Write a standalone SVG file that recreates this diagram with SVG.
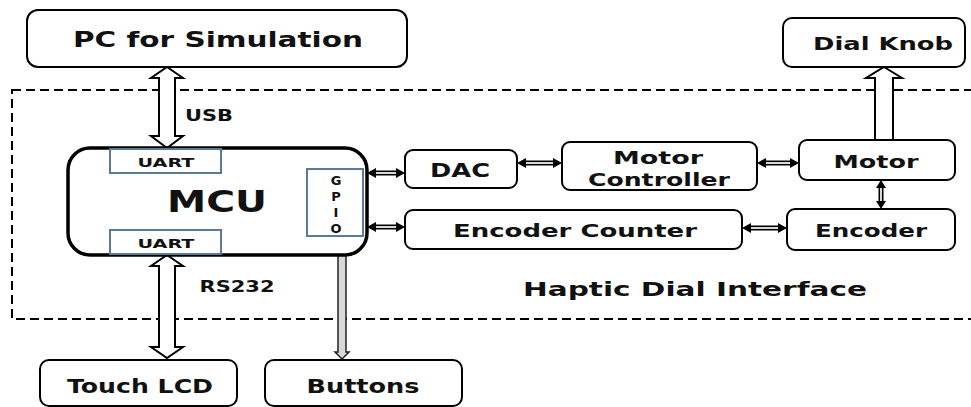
<svg xmlns="http://www.w3.org/2000/svg" width="971" height="407" viewBox="0 0 971 407">
<style>
.box{fill:#fff;stroke:#000;stroke-width:2}
.t{font-family:"DejaVu Sans",Verdana,sans-serif;font-weight:bold;fill:#111;text-anchor:middle}
.sub{fill:#fff;stroke:#5b7a99;stroke-width:2}
.big{fill:#fff;stroke:#000;stroke-width:2;stroke-linejoin:miter}
.dbl{stroke:#000;stroke-width:5;fill:none}
.dbli{stroke:#d8d8d8;stroke-width:2;fill:none}
.head{fill:#000}
</style>
<rect x="12" y="90" width="970" height="229" fill="none" stroke="#000" stroke-width="2" stroke-dasharray="9,5"/>
<g id="connectors">
  <path class="big" d="M167,67 L183,78 L175,78 L175,136 L183,136 L167,148 L151,136 L159,136 L159,78 L151,78 Z"/>
  <path class="big" d="M167,255 L183,266 L175,266 L175,347 L183,347 L167,358 L151,347 L159,347 L159,266 L151,266 Z"/>
  <path class="big" d="M884,67 L902,78 L893,78 L893,140 L875,140 L875,78 L866,78 Z"/>
  <path d="M342,237 L349,244 L346,244 L346,352 L349,352 L342,359 L335,352 L338,352 L338,244 L335,244 Z" fill="#d8d8d8" stroke="#222" stroke-width="1.5"/>
  <g>
    <line class="dbl" x1="374" y1="173" x2="398" y2="173"/><line class="dbli" x1="374" y1="173" x2="398" y2="173"/>
    <path class="head" d="M367,173 L376,168 L376,178 Z M405,173 L396,168 L396,178 Z"/>
    <line class="dbl" x1="374" y1="227" x2="398" y2="227"/><line class="dbli" x1="374" y1="227" x2="398" y2="227"/>
    <path class="head" d="M367,227 L376,222 L376,232 Z M405,227 L396,222 L396,232 Z"/>
    <line class="dbl" x1="524" y1="163" x2="555" y2="163"/><line class="dbli" x1="524" y1="163" x2="555" y2="163"/>
    <path class="head" d="M517,163 L526,158 L526,168 Z M562,163 L553,158 L553,168 Z"/>
    <line class="dbl" x1="764" y1="163" x2="792" y2="163"/><line class="dbli" x1="764" y1="163" x2="792" y2="163"/>
    <path class="head" d="M757,163 L766,158 L766,168 Z M799,163 L790,158 L790,168 Z"/>
    <line class="dbl" x1="749" y1="228" x2="780" y2="228"/><line class="dbli" x1="749" y1="228" x2="780" y2="228"/>
    <path class="head" d="M742,228 L751,223 L751,233 Z M787,228 L778,223 L778,233 Z"/>
    <line class="dbl" x1="881" y1="186" x2="881" y2="203"/><line class="dbli" x1="881" y1="186" x2="881" y2="203"/>
    <path class="head" d="M881,180 L876,188 L886,188 Z M881,209 L876,201 L886,201 Z"/>
  </g>
</g>
<g id="pc"><rect class="box" x="27" y="10" width="380" height="57" rx="11"/><text class="t" x="218" y="47" font-size="22" textLength="290" lengthAdjust="spacingAndGlyphs">PC for Simulation</text></g>
<g id="mcu">
  <rect x="68" y="148" width="299" height="107" rx="22" fill="#fff" stroke="#000" stroke-width="3.5"/>
  <text class="t" x="217" y="212" font-size="30" textLength="100" lengthAdjust="spacingAndGlyphs">MCU</text>
</g>
<g id="uart-top"><rect class="sub" x="110" y="149" width="111" height="24"/><text class="t" x="166" y="167" font-size="13" textLength="57" lengthAdjust="spacingAndGlyphs">UART</text></g>
<g id="uart-bottom"><rect class="sub" x="110" y="230" width="111" height="24"/><text class="t" x="166" y="248" font-size="13" textLength="57" lengthAdjust="spacingAndGlyphs">UART</text></g>
<g id="gpio"><rect class="sub" x="307" y="169" width="56" height="67"/>
  <text class="t" font-size="13" x="336" y="185">G</text><text class="t" font-size="13" x="336" y="201">P</text><text class="t" font-size="13" x="336" y="217">I</text><text class="t" font-size="13" x="336" y="233">O</text></g>
<g id="dac"><rect class="box" x="405" y="150" width="112" height="38" rx="8"/><text class="t" x="460" y="177" font-size="19" textLength="60" lengthAdjust="spacingAndGlyphs">DAC</text></g>
<g id="motor-controller"><rect class="box" x="562" y="142" width="195" height="48" rx="8"/><text class="t" x="658" y="164" font-size="18" textLength="90" lengthAdjust="spacingAndGlyphs">Motor</text><text class="t" x="659" y="186" font-size="18" textLength="142" lengthAdjust="spacingAndGlyphs">Controller</text></g>
<g id="motor"><rect class="box" x="799" y="140" width="156" height="40" rx="8"/><text class="t" x="876" y="168" font-size="18" textLength="85" lengthAdjust="spacingAndGlyphs">Motor</text></g>
<g id="encoder-counter"><rect class="box" x="405" y="210" width="337" height="39" rx="8"/><text class="t" x="575" y="237" font-size="18" textLength="244" lengthAdjust="spacingAndGlyphs">Encoder Counter</text></g>
<g id="encoder"><rect class="box" x="787" y="209" width="168" height="41" rx="8"/><text class="t" x="871" y="237" font-size="18" textLength="112" lengthAdjust="spacingAndGlyphs">Encoder</text></g>
<g id="dial-knob"><rect class="box" x="783" y="18" width="182" height="49" rx="9"/><text class="t" x="883" y="50" font-size="18" textLength="140" lengthAdjust="spacingAndGlyphs">Dial Knob</text></g>
<g id="touch-lcd"><rect class="box" x="40" y="360" width="197" height="46" rx="9"/><text class="t" x="140" y="393" font-size="19" textLength="146" lengthAdjust="spacingAndGlyphs">Touch LCD</text></g>
<g id="buttons"><rect class="box" x="265" y="360" width="197" height="46" rx="9"/><text class="t" x="363" y="393" font-size="19" textLength="113" lengthAdjust="spacingAndGlyphs">Buttons</text></g>
<text class="t" x="209" y="121" font-size="15" textLength="48" lengthAdjust="spacingAndGlyphs">USB</text>
<text class="t" x="237" y="292" font-size="15" textLength="75" lengthAdjust="spacingAndGlyphs">RS232</text>
<text class="t" x="695" y="296" font-size="20" textLength="344" lengthAdjust="spacingAndGlyphs">Haptic Dial Interface</text>
</svg>
